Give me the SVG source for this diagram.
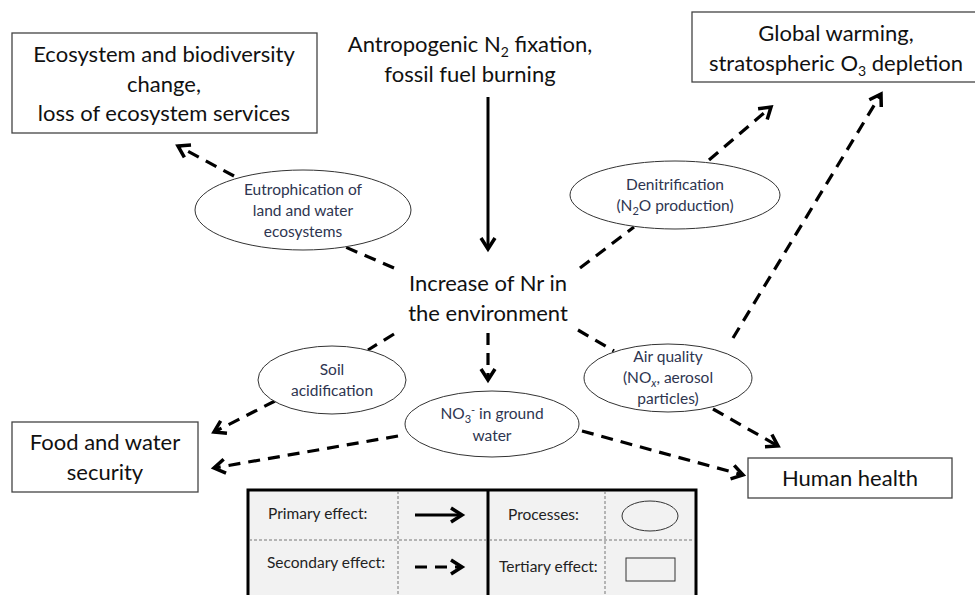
<svg xmlns="http://www.w3.org/2000/svg" width="975" height="595" viewBox="0 0 975 595">
<style>
text{font-family:Lato,"Open Sans","Liberation Sans",sans-serif;fill:#111;text-anchor:middle}
.big{font-size:22px}
.sm{font-size:15.5px;fill:#2e3550}
.lg{font-size:15.5px;fill:#222;text-anchor:start}
.box{fill:#fff;stroke:#444;stroke-width:1.3}
.ell{fill:#fff;stroke:#333;stroke-width:1}
.dash{fill:none;stroke:#000;stroke-width:3.2;stroke-dasharray:12 8;marker-end:url(#ah)}
.dashn{fill:none;stroke:#000;stroke-width:3.2;stroke-dasharray:12 8}
.solid{fill:none;stroke:#000;stroke-width:3;marker-end:url(#ah)}
.grid{stroke:#777;stroke-width:1;stroke-dasharray:3 2;fill:none}
</style>
<defs>
<marker id="ah" viewBox="0 0 20 20" refX="16" refY="10" markerWidth="20" markerHeight="20" markerUnits="userSpaceOnUse" orient="auto">
<path d="M5,3 L16,10 L5,17" fill="none" stroke="#000" stroke-width="3.5" stroke-dasharray="none"/>
</marker>
</defs>
<rect width="975" height="595" fill="#fff"/>

<g id="connectors">
<line class="solid" x1="488" y1="97" x2="488" y2="249"/>
<line class="dashn" x1="394" y1="268" x2="343" y2="246"/>
<line class="dash" x1="234" y1="176" x2="178" y2="146"/>
<line class="dashn" x1="580" y1="268" x2="634" y2="227"/>
<line class="dash" x1="709" y1="160" x2="771" y2="107"/>
<line class="dash" x1="733" y1="338" x2="881" y2="94"/>
<line class="dashn" x1="394" y1="334" x2="368" y2="350"/>
<line class="dash" x1="275" y1="401" x2="214" y2="432"/>
<line class="dash" x1="488" y1="333" x2="488" y2="380"/>
<line class="dashn" x1="578" y1="330" x2="614" y2="351"/>
<line class="dash" x1="713" y1="409" x2="778" y2="446"/>
<line class="dash" x1="398" y1="436" x2="214" y2="468"/>
<line class="dash" x1="582" y1="431" x2="743" y2="475"/>
</g>

<g id="source">
<text class="big" x="470" y="52" font-size="21">Antropogenic N<tspan font-size="14" dy="5">2</tspan><tspan dy="-5"> fixation,</tspan></text>
<text class="big" x="470" y="82">fossil fuel burning</text>
</g>

<g id="increase">
<text class="big" x="488" y="291">Increase of Nr in</text>
<text class="big" x="488" y="321">the environment</text>
</g>

<g id="ecosystem">
<rect class="box" x="12" y="33" width="305" height="100"/>
<text class="big" x="164" y="62">Ecosystem and biodiversity</text>
<text class="big" x="164" y="92">change,</text>
<text class="big" x="164" y="121">loss of ecosystem services</text>
</g>

<g id="global">
<rect class="box" x="692" y="12" width="290" height="70"/>
<text class="big" x="836" y="41">Global warming,</text>
<text class="big" x="836" y="71">stratospheric O<tspan font-size="14" dy="5">3</tspan><tspan dy="-5"> depletion</tspan></text>
</g>

<g id="food">
<rect class="box" x="12" y="422" width="186" height="70"/>
<text class="big" x="105" y="450">Food and water</text>
<text class="big" x="105" y="480">security</text>
</g>

<g id="human">
<rect class="box" x="748" y="458" width="204" height="40"/>
<text class="big" x="850" y="486">Human health</text>
</g>

<g id="eutrophication">
<ellipse class="ell" cx="303" cy="210" rx="108" ry="40"/>
<text class="sm" x="303" y="195">Eutrophication of</text>
<text class="sm" x="303" y="216">land and water</text>
<text class="sm" x="303" y="237">ecosystems</text>
</g>

<g id="denitrification">
<ellipse class="ell" cx="675" cy="195" rx="105" ry="34"/>
<text class="sm" x="675" y="190">Denitrification</text>
<text class="sm" x="675" y="211">(N<tspan font-size="11" dy="4">2</tspan><tspan dy="-4">O production)</tspan></text>
</g>

<g id="soil">
<ellipse class="ell" cx="332" cy="380" rx="74" ry="34"/>
<text class="sm" x="332" y="375">Soil</text>
<text class="sm" x="332" y="396">acidification</text>
</g>

<g id="nitrate">
<ellipse class="ell" cx="492" cy="424" rx="87" ry="33"/>
<text class="sm" x="492" y="419">NO<tspan font-size="11" dy="4">3</tspan><tspan font-size="11" dy="-9">-</tspan><tspan dy="5"> in ground</tspan></text>
<text class="sm" x="492" y="441">water</text>
</g>

<g id="air">
<ellipse class="ell" cx="668" cy="378" rx="84" ry="34"/>
<text class="sm" x="668" y="362">Air quality</text>
<text class="sm" x="668" y="383">(NO<tspan font-size="11" dy="4" font-style="italic">x</tspan><tspan dy="-4">, aerosol</tspan></text>
<text class="sm" x="668" y="404">particles)</text>
</g>

<g id="legend">
<rect x="248" y="490" width="448" height="110" fill="#f2f2f2" stroke="#000" stroke-width="3"/>
<line x1="488" y1="490" x2="488" y2="600" stroke="#000" stroke-width="3"/>
<line class="grid" x1="398" y1="491" x2="398" y2="600"/>
<line class="grid" x1="605" y1="491" x2="605" y2="600"/>
<line class="grid" x1="249" y1="540" x2="695" y2="540"/>
<text class="lg" x="268" y="519">Primary effect:</text>
<line class="solid" x1="415" y1="515" x2="462" y2="515"/>
<text class="lg" x="508" y="520">Processes:</text>
<ellipse cx="650" cy="516" rx="28" ry="15" fill="none" stroke="#333" stroke-width="1"/>
<text class="lg" x="267" y="568">Secondary effect:</text>
<line class="dash" x1="415" y1="567" x2="462" y2="567"/>
<text class="lg" x="499" y="572">Tertiary effect:</text>
<rect x="626" y="558" width="49" height="23" fill="none" stroke="#333" stroke-width="1"/>
</g>
</svg>
